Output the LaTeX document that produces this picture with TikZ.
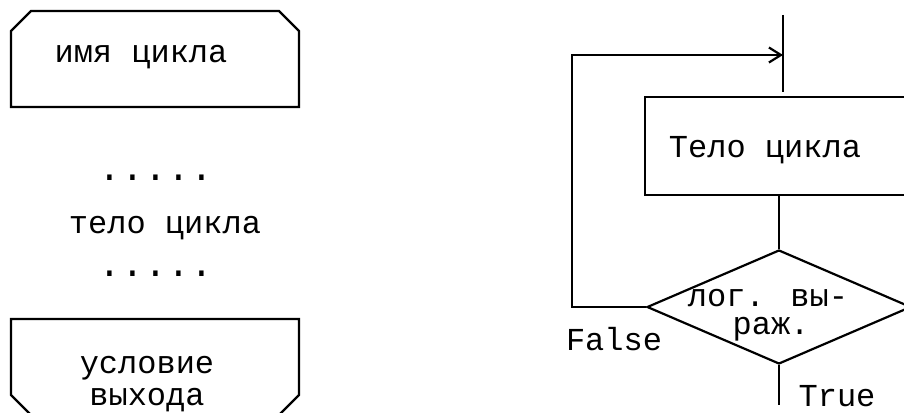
\documentclass[tikz,border=0pt]{standalone}
\usepackage{fontspec}
\setmainfont{Liberation Mono}
\usetikzlibrary{arrows.meta,shapes.geometric}
\begin{document}
\begin{tikzpicture}[x=1pt,y=-1pt,
  ln/.style={line width=2.2pt},
  txt/.style={anchor=base,inner sep=0pt,font=\fontsize{32}{38}\selectfont},
  dots/.style={anchor=base,inner sep=0pt,font=\fontsize{38}{44}\selectfont},
  boxshape/.style={draw,ln,rectangle,inner sep=0pt},
  decision/.style={draw,ln,diamond,inner sep=0pt}]
\clip (0,0) rectangle (904,412);
\fill[white] (0,0) rectangle (904,412);
% left: loop header
\draw[ln] (11,107) -- (11,31) -- (31,11) -- (279,11) -- (299,31) -- (299,107) -- cycle;
\node[txt] (hname) at (141,63) {имя цикла};
\node[dots] (d1) at (156,180) {.....};
\node[txt] (body1) at (165,233) {тело цикла};
\node[dots] (d2) at (156,276) {.....};
% left: loop end
\draw[ln,line join=miter] (33,417) -- (11,395) -- (11,319) -- (299,319) -- (299,395) -- (277,417);
\node[txt] (c1) at (147,373) {условие};
\node[txt] (c2) at (147,405) {выхода};
% right: flowchart
\coordinate (top) at (783,15);
\coordinate (topend) at (783,92);
\coordinate (join) at (783,55);
\coordinate (loopx) at (572,0);
\coordinate (out) at (779,405);
\node[boxshape, minimum width=265pt, minimum height=98pt] (body) at (777.5,146) {};
\node[txt] at (765,157) {Тело цикла};
\node[decision, minimum width=264pt, minimum height=114pt] (cond) at (779,307) {};
\node[txt] at (768,306) {лог. вы-};
\node[txt] at (771,334) {раж.};
\node[txt] at (614,350) {False};
\node[txt] at (837,406) {True};
\draw[ln] (top) -- (topend);
\draw[ln] (body.south -| cond.north) -- (cond.north);
\draw[ln] (cond.south) -- (out);
\draw[ln,-{Straight Barb[length=12pt,width=15pt]}] (cond.west) -- (cond.west -| loopx) |- (join);
\end{tikzpicture}
\end{document}
